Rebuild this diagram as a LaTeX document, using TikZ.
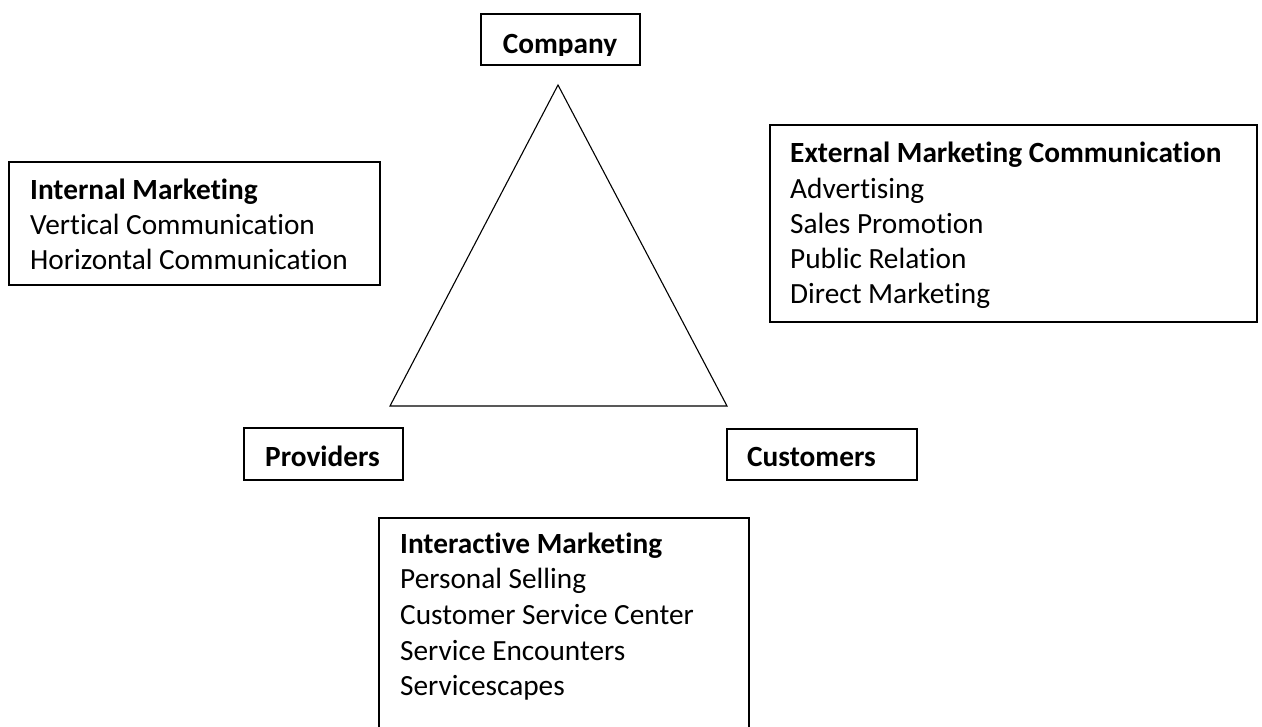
\documentclass[tikz,border=0pt]{standalone}
\usepackage{fontspec}
\setmainfont{Carlito}[Ligatures=NoCommon]
\begin{document}
\begin{tikzpicture}[x=1pt,y=-1pt,
	  box/.style={draw, line width=1.8pt, inner sep=0pt, anchor=north west},
	  item/.style={anchor=base west, inner sep=0pt, font=\fontsize{29.3}{35}\selectfont},
	  head/.style={item, font=\fontsize{29.3}{35}\selectfont\bfseries}]
	  \useasboundingbox (0,0) rectangle (1262,727);
	  \clip (0,0) rectangle (1262,727);

	  % triangle
	  \coordinate (apex) at (558,85);
	  \coordinate (baseL) at (390,406);
	  \coordinate (baseR) at (727,406);
	  \draw[line width=1.1pt] (apex) -- (baseL) -- (baseR) -- cycle;

	  % corner boxes
	  \node[box, minimum width=159, minimum height=51] (company) at (480,13) {};
	  \begin{scope}
	    \clip (480,13) rectangle (639,56);
	    \node[head, anchor=base] (companyText) at (560,54) {Company};
	  \end{scope}
	  \node[box, minimum width=159, minimum height=52] (providers) at (243,427) {};
	  \node[head] (providersText) at (265,466) {Providers};
	  \node[box, minimum width=190, minimum height=51] (customers) at (726,428) {};
	  \node[head] (customersText) at (747,466) {Customers};

	  % internal marketing
	  \node[box, minimum width=371, minimum height=123] (internal) at (8,161) {};
	  \node[head] (int0) at (30,199.5) {Internal Marketing};
	  \foreach \t [count=\i] in {Vertical Communication, Horizontal Communication}
	  \node[item] (int\i) at (30,{199.5+35*\i}) {\t};

	  % external marketing
	  \node[box, minimum width=487, minimum height=197] (external) at (769,124) {};
	  \node[head] (ext0) at (790,163) {External Marketing Communication};
	  \foreach \t [count=\i] in {Advertising, Sales Promotion, Public Relation, Direct Marketing}
	  \node[item] (ext\i) at (790,{163+35.2*\i}) {\t};

	  % interactive marketing
	  \node[box, minimum width=370, minimum height=243] (interactive) at (378,517) {};
	  \node[head] (inter0) at (400,553) {Interactive Marketing};
	  \foreach \t [count=\i] in {Personal Selling, Customer Service Center, Service Encounters, Servicescapes}
	  \node[item] (inter\i) at (400,{553+35.7*\i}) {\t};
	\end{tikzpicture}
\end{document}
